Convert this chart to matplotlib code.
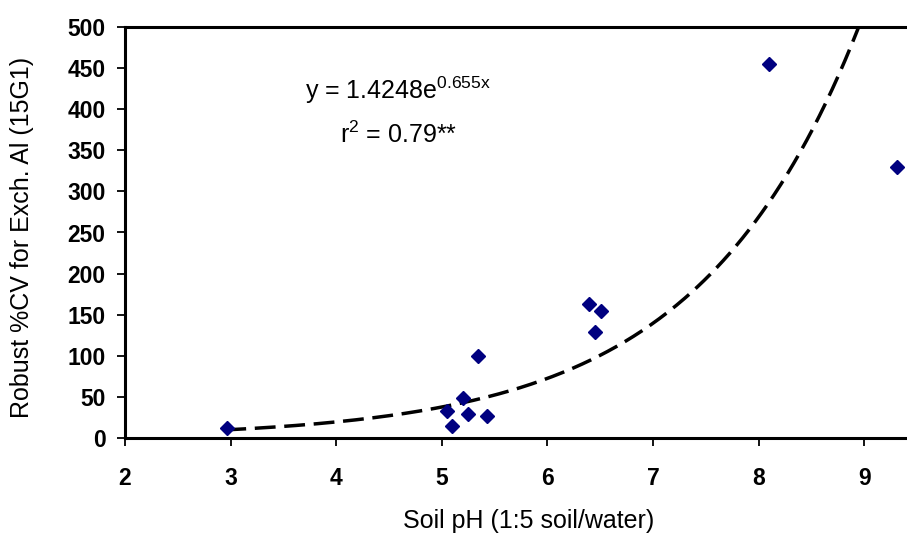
import numpy as np
import matplotlib
matplotlib.use("Agg")
import matplotlib.pyplot as plt

ph = [2.97, 5.05, 5.10, 5.20, 5.25, 5.34, 5.43, 6.39, 6.45, 6.51, 8.10, 9.31]
cv = [12, 33, 15, 49, 29, 100, 27, 163, 129, 155, 455, 330]
fit_a, fit_b = 1.4248, 0.655
xticks = [2, 3, 4, 5, 6, 7, 8, 9]
yticks = list(range(0, 501, 50))

plt.rcParams['font.family'] = ['Liberation Sans', 'DejaVu Sans']
plt.rcParams['mathtext.fontset'] = 'custom'
plt.rcParams['mathtext.rm'] = 'Liberation Sans'
plt.rcParams['mathtext.it'] = 'Liberation Sans'
plt.rcParams['mathtext.default'] = 'regular'

W, H = 907, 536
fig = plt.figure(figsize=(W/100, H/100), dpi=100)
ax = fig.add_axes([125/W, 98/H, 1 - 125/W, (438-27)/H])

xf = np.linspace(2.95, 9.0, 300)
yf = fit_a * np.exp(fit_b * xf)
ax.plot(xf, yf, color='black', lw=2.5, ls=(0, (6, 2.5)), zorder=2)
ax.plot(ph, cv, ls='none', marker='D', ms=7, color='#000080', zorder=3)

ax.set_xlim(2, 9.405)
ax.set_ylim(0, 500)
ax.set_xticks(xticks)
ax.set_yticks(yticks)
ax.tick_params(axis='both', direction='out', length=6, width=1.3, labelsize=16.5)
ax.tick_params(axis='y', pad=8)
ax.tick_params(axis='x', pad=15)
for lab in ax.get_xticklabels() + ax.get_yticklabels():
    lab.set_fontweight('bold')
for s in ['left', 'bottom', 'top']:
    ax.spines[s].set_linewidth(2.2)
ax.spines['right'].set_visible(False)

ax.set_xlabel('Soil pH (1:5 soil/water)', fontsize=18)
ax.set_ylabel('Robust %CV for Exch. Al (15G1)', fontsize=18)
ax.xaxis.set_label_coords((529-125)/(W-125), -(521-438)/411, transform=ax.transAxes)
ax.xaxis.label.set_va('center')
ax.yaxis.set_label_coords(-(125-22)/(W-125), (438-237)/411, transform=ax.transAxes)
ax.yaxis.label.set_va('center')

def px2data(px, py):
    return ((px - 125) / ((W - 125) / 7.405) + 2, (438 - py) / (411 / 500))

ex, ey = px2data(398, 90)
rx, ry = px2data(399, 135)
ax.text(ex, ey, r'y = 1.4248e$^{0.655x}$', fontsize=18, ha='center', va='center')
ax.text(rx, ry, r'r$^{2}$ = 0.79**', fontsize=18, ha='center', va='center')

fig.savefig('out.png', dpi=100)
